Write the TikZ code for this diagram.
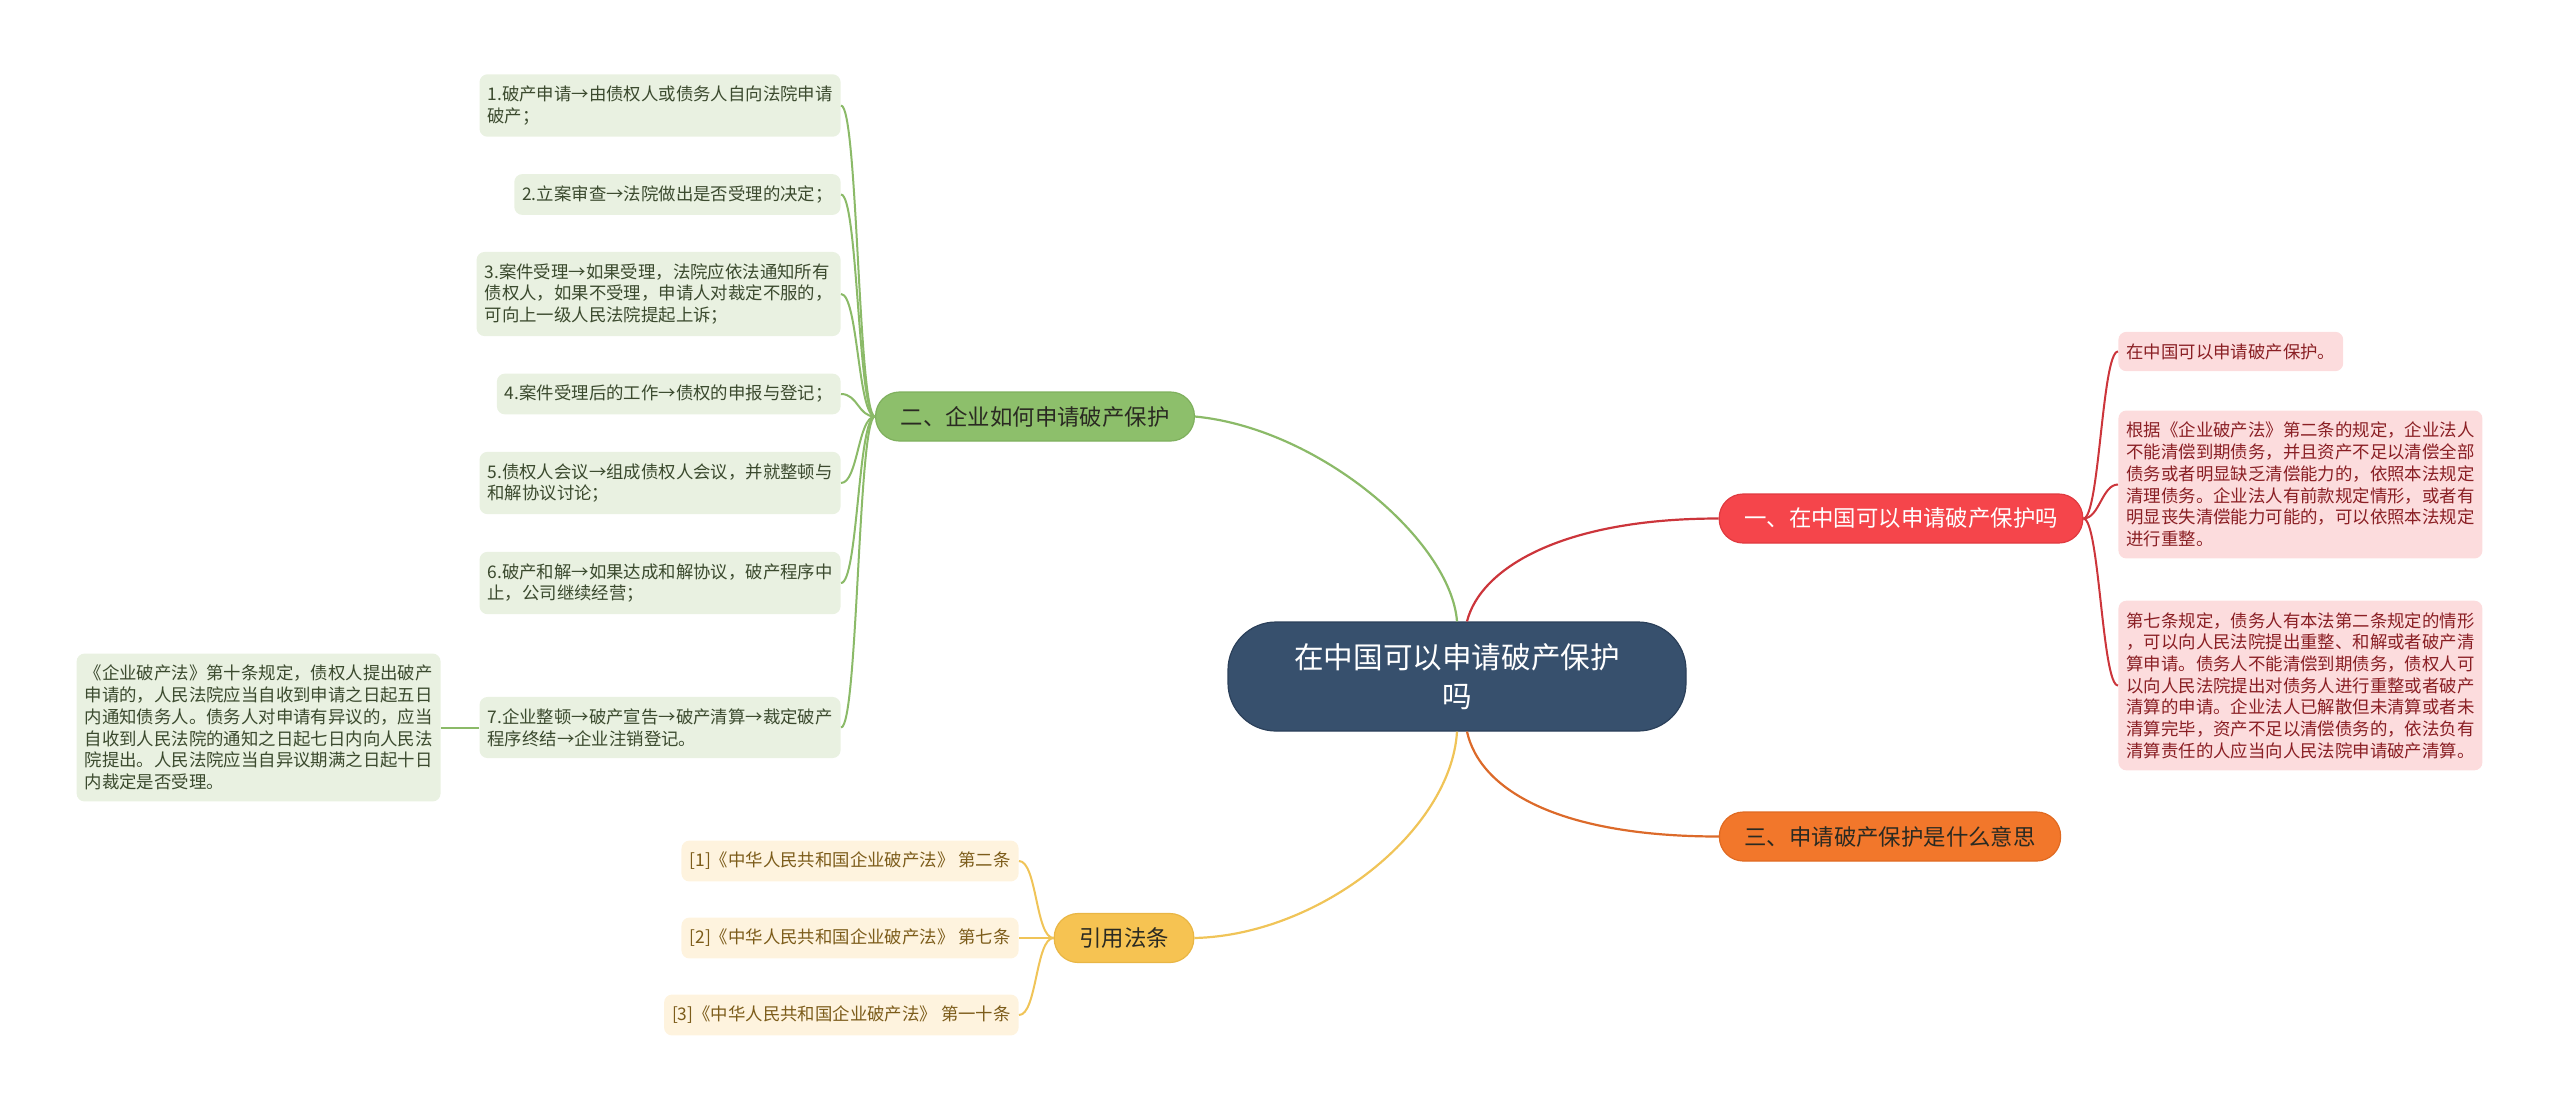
\documentclass[tikz,border=0pt]{standalone}
\usepackage{fontspec}
\setmainfont{Noto Sans CJK SC}
\definecolor{rootfill}{HTML}{37506D}
\definecolor{rootdraw}{HTML}{2B405A}
\definecolor{redfill}{HTML}{F5454B}
\definecolor{reddraw}{HTML}{E03A40}
\definecolor{redline}{HTML}{CC353B}
\definecolor{orfill}{HTML}{F2772B}
\definecolor{ordraw}{HTML}{E06A22}
\definecolor{orline}{HTML}{DC6A2A}
\definecolor{grfill}{HTML}{8DBF6B}
\definecolor{grdraw}{HTML}{7FB05E}
\definecolor{grline}{HTML}{8BBA68}
\definecolor{yefill}{HTML}{F6C352}
\definecolor{yedraw}{HTML}{E9B645}
\definecolor{yeline}{HTML}{F0C458}
\definecolor{gleaffill}{HTML}{E9F1E1}
\definecolor{rleaffill}{HTML}{FCDCDD}
\definecolor{yleaffill}{HTML}{FEF3DE}
\definecolor{gleaftext}{HTML}{3B4A2E}
\definecolor{rleaftext}{HTML}{8A1F24}
\definecolor{yleaftext}{HTML}{7C5C1A}
\definecolor{darktext}{HTML}{2A2A22}
\begin{document}
\begin{tikzpicture}[x=0.5pt,y=-0.5pt,
  leaf/.style={rounded corners=4pt, inner xsep=4pt, inner ysep=5.8pt, align=left,
    font=\fontsize{8.7pt}{10.85pt}\selectfont},
  gleaf/.style={leaf, fill=gleaffill, text=gleaftext, anchor=east},
  rleaf/.style={leaf, fill=rleaffill, text=rleaftext, anchor=west},
  yleaf/.style={leaf, fill=yleaffill, text=yleaftext, anchor=east},
  branch/.style={rounded corners=12pt, inner xsep=12.5pt, inner ysep=0pt, minimum height=24.5pt,
    font=\fontsize{11.2pt}{13pt}\selectfont, line width=0.6pt},
  rootbox/.style={rounded corners=24pt, minimum width=229pt, minimum height=54.5pt,
    fill=rootfill, draw=rootdraw, line width=0.6pt, text=white, align=center,
    font=\fontsize{14.8pt}{19.5pt}\selectfont},
  mainline/.style={line width=1.1pt},
  leafline/.style={line width=1pt}
]
\useasboundingbox (0,0) rectangle (2560,1110);

% root
\node[rootbox] (root) at (1457,676.5) {在中国可以申请破产保护\\吗};

% branches
\node[branch, fill=redfill, draw=reddraw, text=white] (r) at (1901,518.5) {一、在中国可以申请破产保护吗};
\node[branch, fill=orfill, draw=ordraw, text=darktext] (o) at (1890,836.5) {三、申请破产保护是什么意思};
\node[branch, fill=grfill, draw=grdraw, text=darktext] (g) at (1035,416.5) {二、企业如何申请破产保护};
\node[branch, fill=yefill, draw=yedraw, text=darktext] (y) at (1124,938) {引用法条};

% green leaves
\node[gleaf] (g1) at (841,105.5) {1.破产申请→由债权人或债务人自向法院申请\\破产；};
\node[gleaf] (g2) at (841,194.5) {2.立案审查→法院做出是否受理的决定；};
\node[gleaf] (g3) at (841,294) {3.案件受理→如果受理，法院应依法通知所有\\债权人，如果不受理，申请人对裁定不服的，\\可向上一级人民法院提起上诉；};
\node[gleaf] (g4) at (841,394) {4.案件受理后的工作→债权的申报与登记；};
\node[gleaf] (g5) at (841,483) {5.债权人会议→组成债权人会议，并就整顿与\\和解协议讨论；};
\node[gleaf] (g6) at (841,583) {6.破产和解→如果达成和解协议，破产程序中\\止，公司继续经营；};
\node[gleaf] (g7) at (841,727.5) {7.企业整顿→破产宣告→破产清算→裁定破产\\程序终结→企业注销登记。};
\node[gleaf] (g8) at (441,727.5) {《企业破产法》第十条规定，债权人提出破产\\申请的，人民法院应当自收到申请之日起五日\\内通知债务人。债务人对申请有异议的，应当\\自收到人民法院的通知之日起七日内向人民法\\院提出。人民法院应当自异议期满之日起十日\\内裁定是否受理。};

% red leaves
\node[rleaf] (r1) at (2118,351.5) {在中国可以申请破产保护。};
\node[rleaf] (r2) at (2118,484.5) {根据《企业破产法》第二条的规定，企业法人\\不能清偿到期债务，并且资产不足以清偿全部\\债务或者明显缺乏清偿能力的，依照本法规定\\清理债务。企业法人有前款规定情形，或者有\\明显丧失清偿能力可能的，可以依照本法规定\\进行重整。};
\node[rleaf] (r3) at (2118,685.5) {第七条规定，债务人有本法第二条规定的情形\\，可以向人民法院提出重整、和解或者破产清\\算申请。债务人不能清偿到期债务，债权人可\\以向人民法院提出对债务人进行重整或者破产\\清算的申请。企业法人已解散但未清算或者未\\清算完毕，资产不足以清偿债务的，依法负有\\清算责任的人应当向人民法院申请破产清算。};

% yellow leaves
\node[yleaf] (y1) at (1019,861) {[1]《中华人民共和国企业破产法》 第二条};
\node[yleaf] (y2) at (1019,938) {[2]《中华人民共和国企业破产法》 第七条};
\node[yleaf] (y3) at (1019,1015) {[3]《中华人民共和国企业破产法》 第一十条};

% main connectors
\draw[mainline, grline] (root.north) .. controls +(-6,-80) and +(125,12) .. (g.east);
\draw[mainline, redline] ([xshift=5pt]root.north) .. controls +(13,-52) and +(-159,0) .. (r.west);
\draw[mainline, orline] ([xshift=5pt]root.south) .. controls +(13,59) and +(-159,0) .. (o.west);
\draw[mainline, yeline] (root.south) .. controls +(-6,99) and +(126,-3) .. (y.east);

% green leaf connectors
\foreach \n in {g1,g2,g3,g4,g5,g6,g7}
  \draw[leafline, grline] (g.west) .. controls +(-17,0) and +(17,0) .. (\n.east);
\draw[leafline, grline] (g7.west) -- (g8.east);

% red leaf connectors
\foreach \n in {r1,r2,r3}
  \draw[leafline, redline] (r.east) .. controls +(16,0) and +(-16,0) .. (\n.west);

% yellow leaf connectors
\foreach \n in {y1,y2,y3}
  \draw[leafline, yeline] (y.west) .. controls +(-18,0) and +(18,0) .. (\n.east);
\end{tikzpicture}
\end{document}
